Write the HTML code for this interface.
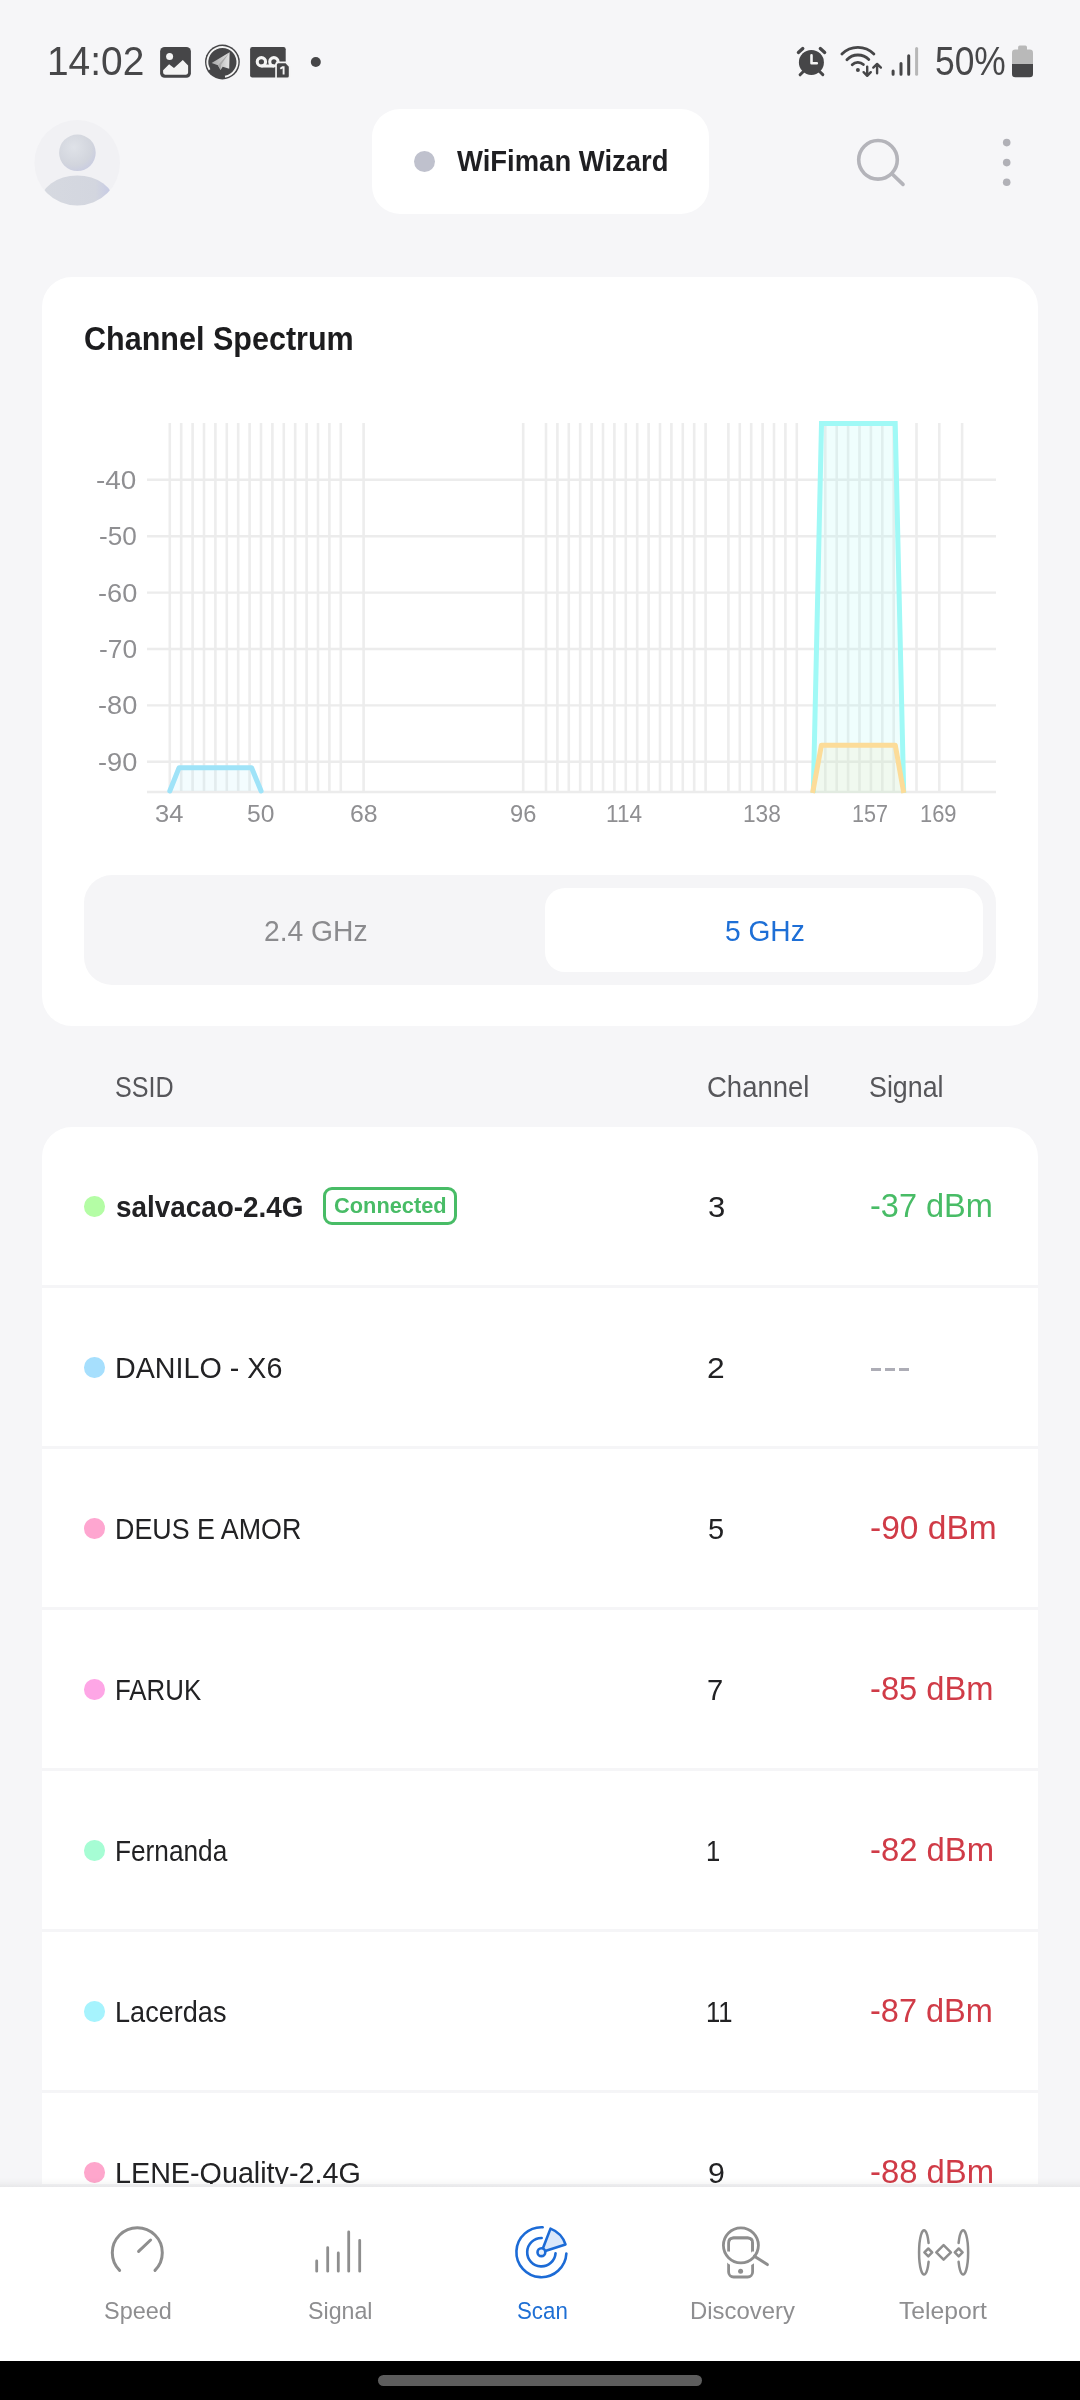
<!DOCTYPE html>
<html>
<head>
<meta charset="utf-8">
<title>WiFiman Scan</title>
<style>
*{margin:0;padding:0;box-sizing:border-box;}
html,body{width:1080px;height:2400px;overflow:hidden;background:#f6f6f8;}
body{font-family:"Liberation Sans",sans-serif;position:relative;color:#1c1c1e;}
.abs{position:absolute;}
.layer{position:absolute;left:0;top:0;width:1080px;height:2400px;will-change:transform;}
.t{position:absolute;white-space:nowrap;line-height:1;transform-origin:0 0;}
#pill{left:372px;top:109.3px;width:337.3px;height:104.4px;border-radius:28px;background:#fff;}
#pilldot{left:414px;top:150.5px;width:21.4px;height:21.4px;border-radius:50%;background:#bfc1cd;}
#card1{left:42px;top:277.3px;width:995.9px;height:749.2px;border-radius:30px;background:#fff;}
#tabs{left:84px;top:875px;width:912px;height:109.6px;border-radius:28px;background:#f5f5f7;}
#tabsel{left:545px;top:888px;width:438px;height:84px;border-radius:20px;background:#fff;}
#card2{left:42px;top:1126.8px;width:995.9px;height:1100px;border-radius:30px 30px 0 0;background:#fff;}
.sep{left:42px;width:995.9px;height:3px;background:#f5f5f7;}
.dot{width:20.6px;height:20.6px;border-radius:50%;left:84.4px;}
.dash{height:2.6px;width:9.6px;background:#adadb6;}
#conn{left:322.9px;top:1186.9px;width:134.6px;height:38.1px;border:3px solid #48bc66;border-radius:9px;}
#navsh{left:0;top:2178px;width:1080px;height:6.5px;background:linear-gradient(to bottom,rgba(0,0,0,0),rgba(0,0,0,0.035));}
#navln{left:0;top:2184px;width:1080px;height:3px;background:linear-gradient(to bottom,#ededef,#e8e8ea);}
#nav{left:0;top:2187px;width:1080px;height:174px;background:#fff;}
#black{left:0;top:2361px;width:1080px;height:39px;background:#000;}
#home{left:378px;top:2374.8px;width:324px;height:11.1px;border-radius:5.6px;background:#5d5d5d;}
</style>
</head>

<body>
<!-- HEADER -->
<div class="abs" id="pill"></div>
<div class="abs" id="pilldot"></div>
<!-- CARDS -->
<div class="abs" id="card1"></div>
<div class="abs" id="tabs"></div>
<div class="abs" id="tabsel"></div>
<div class="abs" id="card2"></div>
<div class="abs" id="conn"></div>
<div class="abs dot" style="top:1196.0px;background:#b4fda5"></div>
<div class="abs sep" style="top:1285px"></div>
<div class="abs dot" style="top:1357.0px;background:#a6dffd"></div>
<div class="abs dash" style="left:871.1px;top:1368.1px"></div>
<div class="abs dash" style="left:885.1px;top:1368.1px"></div>
<div class="abs dash" style="left:899.2px;top:1368.1px"></div>
<div class="abs sep" style="top:1446px"></div>
<div class="abs dot" style="top:1518.0px;background:#fea6d0"></div>
<div class="abs sep" style="top:1607px"></div>
<div class="abs dot" style="top:1679.0px;background:#fea6e6"></div>
<div class="abs sep" style="top:1768px"></div>
<div class="abs dot" style="top:1840.0px;background:#a6fdd4"></div>
<div class="abs sep" style="top:1929px"></div>
<div class="abs dot" style="top:2001.0px;background:#a6f3fd"></div>
<div class="abs sep" style="top:2090px"></div>
<div class="abs dot" style="top:2162.0px;background:#fea6cc"></div>
<svg class="abs" style="left:0;top:0" width="1080" height="1100" viewBox="0 0 1080 1100">
<g stroke="#ededed" stroke-width="2.6" fill="none">
<path d="M169.8 423V793M181.2 423V793M192.6 423V793M204.0 423V793M215.4 423V793M226.8 423V793M238.2 423V793M249.6 423V793M261.0 423V793M272.4 423V793M283.8 423V793M295.2 423V793M306.6 423V793M318.0 423V793M329.4 423V793M340.8 423V793M363.6 423V793M523.2 423V793M546.0 423V793M557.4 423V793M568.8 423V793M580.2 423V793M591.6 423V793M603.0 423V793M614.4 423V793M625.8 423V793M637.2 423V793M648.6 423V793M660.0 423V793M671.4 423V793M682.8 423V793M694.2 423V793M705.6 423V793M728.4 423V793M739.8 423V793M751.2 423V793M762.6 423V793M774.0 423V793M785.4 423V793M796.8 423V793M825.3 423V793M836.7 423V793M848.1 423V793M859.5 423V793M870.9 423V793M882.3 423V793M893.7 423V793M916.5 423V793M939.3 423V793M962.1 423V793"/>
</g>
<g stroke="#ececec" stroke-width="2.4" fill="none">
<path d="M147 479.7H996M147 536.2H996M147 592.6H996M147 649H996M147 705.4H996M147 761.8H996M147 792H996"/>
</g>
<path d="M169.8 791L179 767.8H251.6L261.1 791" fill="#a3e4f8" fill-opacity="0.13" stroke="none"/>
<path d="M169.8 791L179 767.8H251.6L261.1 791" fill="none" stroke="#9fe3f8" stroke-width="5" stroke-linejoin="round" stroke-linecap="round"/>
<path d="M813.3 793L821.5 423.5H895.2L903.7 793" fill="#9ef9f6" fill-opacity="0.17" stroke="none"/>
<path d="M813.3 793L821.5 423.5H895.2L903.7 793" fill="none" stroke="#a0f9f6" stroke-width="5" stroke-linejoin="miter"/>
<path d="M812.6 793L821.4 745.3H895.3L903.8 793" fill="#f8dc9a" fill-opacity="0.14" stroke="none"/>
<path d="M812.6 793L821.4 745.3H895.3L903.8 793" fill="none" stroke="#fcdc99" stroke-width="5" stroke-linejoin="round"/>
</svg>
<!-- STATUS + HEADER ICONS -->
<svg class="abs" style="left:0;top:0" width="1080" height="240" viewBox="0 0 1080 240">
<defs>
<clipPath id="avc"><circle cx="77.2" cy="162.8" r="42.8"/></clipPath>
<radialGradient id="hg" cx="0.4" cy="0.35" r="0.75"><stop offset="0" stop-color="#dfe2e8"/><stop offset="0.65" stop-color="#d2d5dd"/><stop offset="1" stop-color="#c7cae2"/></radialGradient>
<linearGradient id="bg2" x1="0" y1="0" x2="1" y2="0"><stop offset="0" stop-color="#d6d9e0"/><stop offset="0.75" stop-color="#d3d6df"/><stop offset="1" stop-color="#c4c8e6"/></linearGradient>
<linearGradient id="pg" x1="0" y1="0" x2="1" y2="0"><stop offset="0" stop-color="#a8a8a8"/><stop offset="1" stop-color="#e2e2e2"/></linearGradient>
</defs>
<!-- image icon -->
<rect x="160.1" y="47" width="30.8" height="30.8" rx="4.6" fill="#464648"/>
<circle cx="169.6" cy="56.5" r="3.5" fill="#f4f4f4"/>
<path d="M163.1 72.6V70.3L169.1 64.2L174 68L182.8 60L188.1 65.5V72.6Q188.1 74.7 186 74.7H165.2Q163.1 74.7 163.1 72.6Z" fill="#f4f4f4"/>
<!-- telegram-like icon -->
<circle cx="222.4" cy="62" r="17.4" fill="#464648"/>
<path d="M209.54 69.73A15 15 0 1 1 225 76.77" fill="none" stroke="#f4f4f4" stroke-width="1.9"/>
<path d="M229.6 52.3L211.6 63L217.9 65.3L220.6 70L222.7 66.7L229.2 68.8Z" fill="url(#pg)"/>
<path d="M229.6 52.3L217.9 65.3L220.6 70L221.2 64.5Z" fill="#a9a9a9"/>
<!-- voicemail -->
<rect x="250.1" y="47" width="35.6" height="30.4" rx="2.2" fill="#464648"/>
<g fill="none" stroke="#f4f4f4" stroke-width="3.1"><circle cx="261.4" cy="61.8" r="4.15"/><circle cx="273.9" cy="61.8" r="4.15"/><path d="M261.4 66H273.9"/></g>
<path d="M276.9 64.8Q276.9 63.3 278.4 63.3H285.6L288.8 66.8V75.9Q288.8 77.4 287.3 77.4H276.9Z" fill="#464648" stroke="#f4f4f4" stroke-width="3.4" paint-order="stroke"/>
<path d="M280.3 68.8L282.5 67.3H283.6V74.6" fill="none" stroke="#f4f4f4" stroke-width="1.9"/>
<!-- dot -->
<circle cx="315.8" cy="62" r="5" fill="#464648"/>
<!-- alarm -->
<circle cx="811.4" cy="62.4" r="12.5" fill="#464648"/>
<g stroke="#464648" stroke-width="3.3" stroke-linecap="round" fill="none">
<path d="M798.4 52.5L802.8 48.5M820.3 48.5L824.7 52.5"/>
<path d="M803.4 71.5L800.1 74.8M819.6 71.5L822.8 74.6" stroke-width="3"/>
</g>
<path d="M811.5 55.4V63.3H816.8" fill="none" stroke="#f4f4f4" stroke-width="2.6" stroke-linecap="round" stroke-linejoin="round"/>
<!-- wifi -->
<g fill="none" stroke="#464648" stroke-width="2.8" stroke-linecap="round">
<path d="M841.9 54.1A22.5 22.5 0 0 1 873.9 54.1"/>
<path d="M846.9 59.7A15.3 15.3 0 0 1 868.8 59.5"/>
<path d="M852.2 64.8A8 8 0 0 1 863.4 64.6"/>
</g>
<circle cx="857.9" cy="69.9" r="2" fill="#464648"/>
<g fill="none" stroke="#464648" stroke-width="2.4" stroke-linecap="round" stroke-linejoin="round">
<path d="M867.2 66.6V75.6M863.6 72.2L867.2 75.8L870.8 72.2"/>
<path d="M877.1 73.3V64M873.3 67.6L877.1 63.9L880.9 67.6"/>
</g>
<!-- signal bars -->
<g stroke="#464648" stroke-width="3" stroke-linecap="round">
<path d="M893.1 71V74.2M901 63.6V74.2M908.7 55.8V74.2"/>
<path d="M916.6 48.5V74.2" stroke="#b7b7b7"/>
</g>
<!-- battery -->
<path d="M1018.1 49.6V47.2Q1018.1 45.6 1019.7 45.6H1025.4Q1027 45.6 1027 47.2V49.6H1029.7Q1033 49.6 1033 52.9V64.1H1012V52.9Q1012 49.6 1015.3 49.6Z" fill="#b9b9b9"/>
<path d="M1012 64.1H1033V73.9Q1033 77.2 1029.7 77.2H1015.3Q1012 77.2 1012 73.9Z" fill="#464648"/>
<!-- avatar -->
<circle cx="77.2" cy="162.8" r="42.8" fill="#f1f1f4"/>
<circle cx="77.4" cy="152.8" r="18.3" fill="url(#hg)"/>
<g clip-path="url(#avc)"><ellipse cx="77.2" cy="203" rx="37" ry="27.5" fill="url(#bg2)"/></g>
<!-- search -->
<circle cx="878" cy="159.8" r="19.3" fill="none" stroke="#b4b4ba" stroke-width="3.6"/>
<path d="M891.9 173.7L903 184.4" stroke="#b4b4ba" stroke-width="3.6" stroke-linecap="round"/>
<!-- kebab -->
<g fill="#b1b1b7"><circle cx="1006.7" cy="142.6" r="3.8"/><circle cx="1006.7" cy="162.6" r="3.8"/><circle cx="1006.7" cy="182.2" r="3.8"/></g>
</svg>

<!-- TEXT -->
<div class="layer">
<div class="t" style="left:46.89px;top:41.06px;font-size:40.1px;color:#474749;transform:scaleX(0.9701)">14:02</div>
<div class="t" style="left:935.45px;top:41.06px;font-size:40.1px;color:#474749;transform:scaleX(0.8831)">50%</div>
<div class="t" style="left:457.00px;top:146.55px;font-size:29.0px;color:#1f1f22;transform:scaleX(0.9467);font-weight:bold">WiFiman Wizard</div>
<div class="t" style="left:84.14px;top:322.47px;font-size:33.0px;color:#1c1c1e;transform:scaleX(0.9252);font-weight:bold">Channel Spectrum</div>
<div class="t" style="left:96.49px;top:467.75px;font-size:25.1px;color:#8f8f92;transform:scaleX(1.1124)">-40</div>
<div class="t" style="left:98.96px;top:524.25px;font-size:25.1px;color:#8f8f92;transform:scaleX(1.0423)">-50</div>
<div class="t" style="left:97.52px;top:580.65px;font-size:25.1px;color:#8f8f92;transform:scaleX(1.0832)">-60</div>
<div class="t" style="left:98.65px;top:637.05px;font-size:25.1px;color:#8f8f92;transform:scaleX(1.0511)">-70</div>
<div class="t" style="left:97.52px;top:693.45px;font-size:25.1px;color:#8f8f92;transform:scaleX(1.0832)">-80</div>
<div class="t" style="left:97.52px;top:749.85px;font-size:25.1px;color:#8f8f92;transform:scaleX(1.0832)">-90</div>
<div class="t" style="left:155.27px;top:802.01px;font-size:24.8px;color:#8f8f92;transform:scaleX(1.0291)">34</div>
<div class="t" style="left:247.11px;top:802.01px;font-size:24.8px;color:#8f8f92;transform:scaleX(0.9922)">50</div>
<div class="t" style="left:349.95px;top:802.01px;font-size:24.8px;color:#8f8f92;transform:scaleX(1.0020)">68</div>
<div class="t" style="left:510.31px;top:802.01px;font-size:24.8px;color:#8f8f92;transform:scaleX(0.9545)">96</div>
<div class="t" style="left:606.18px;top:802.01px;font-size:24.8px;color:#8f8f92;transform:scaleX(0.9116)">114</div>
<div class="t" style="left:743.47px;top:802.01px;font-size:24.8px;color:#8f8f92;transform:scaleX(0.9150)">138</div>
<div class="t" style="left:852.46px;top:802.01px;font-size:24.8px;color:#8f8f92;transform:scaleX(0.8711)">157</div>
<div class="t" style="left:919.73px;top:802.01px;font-size:24.8px;color:#8f8f92;transform:scaleX(0.8837)">169</div>
<div class="t" style="left:263.85px;top:915.80px;font-size:29.3px;color:#8b8b8e;transform:scaleX(0.9636)">2.4 GHz</div>
<div class="t" style="left:724.50px;top:915.80px;font-size:29.3px;color:#1e6fd6;transform:scaleX(0.9607)">5 GHz</div>
<div class="t" style="left:115.40px;top:1072.95px;font-size:29.0px;color:#56565a;transform:scaleX(0.8664)">SSID</div>
<div class="t" style="left:707.48px;top:1072.95px;font-size:29.0px;color:#56565a;transform:scaleX(0.9483)">Channel</div>
<div class="t" style="left:868.61px;top:1072.95px;font-size:29.0px;color:#56565a;transform:scaleX(0.9243)">Signal</div>
<div class="t" style="left:115.81px;top:1191.71px;font-size:29.4px;color:#222224;transform:scaleX(0.9481);font-weight:bold">salvacao-2.4G</div>
<div class="t" style="left:707.50px;top:1192.17px;font-size:29.8px;color:#222224;transform:scaleX(1.0429)">3</div>
<div class="t" style="left:869.90px;top:1189.99px;font-size:32.5px;color:#48bc66;transform:scaleX(0.9996)">-37 dBm</div>
<div class="t" style="left:115.06px;top:1352.71px;font-size:29.4px;color:#222224;transform:scaleX(0.9759)">DANILO - X6</div>
<div class="t" style="left:707.20px;top:1353.17px;font-size:29.8px;color:#222224;transform:scaleX(1.0667)">2</div>
<div class="t" style="left:115.22px;top:1513.71px;font-size:29.4px;color:#222224;transform:scaleX(0.9129)">DEUS E AMOR</div>
<div class="t" style="left:707.59px;top:1514.17px;font-size:29.8px;color:#222224;transform:scaleX(0.9714)">5</div>
<div class="t" style="left:869.95px;top:1511.99px;font-size:32.5px;color:#d03b47;transform:scaleX(1.0323)">-90 dBm</div>
<div class="t" style="left:115.30px;top:1674.71px;font-size:29.4px;color:#222224;transform:scaleX(0.8789)">FARUK</div>
<div class="t" style="left:707.33px;top:1675.17px;font-size:29.8px;color:#222224;transform:scaleX(0.9778)">7</div>
<div class="t" style="left:869.99px;top:1672.99px;font-size:32.5px;color:#d03b47;transform:scaleX(1.0055)">-85 dBm</div>
<div class="t" style="left:115.27px;top:1835.71px;font-size:29.4px;color:#222224;transform:scaleX(0.8925)">Fernanda</div>
<div class="t" style="left:706.03px;top:1836.17px;font-size:29.8px;color:#222224;transform:scaleX(0.8600)">1</div>
<div class="t" style="left:869.98px;top:1833.99px;font-size:32.5px;color:#d03b47;transform:scaleX(1.0105)">-82 dBm</div>
<div class="t" style="left:115.20px;top:1996.71px;font-size:29.4px;color:#222224;transform:scaleX(0.9220)">Lacerdas</div>
<div class="t" style="left:705.50px;top:1997.17px;font-size:29.8px;color:#222224;transform:scaleX(0.8600)">11</div>
<div class="t" style="left:870.00px;top:1994.99px;font-size:32.5px;color:#d03b47;transform:scaleX(0.9996)">-87 dBm</div>
<div class="t" style="left:115.06px;top:2157.71px;font-size:29.4px;color:#222224;transform:scaleX(0.9771)">LENE-Quality-2.4G</div>
<div class="t" style="left:707.87px;top:2158.17px;font-size:29.8px;color:#222224;transform:scaleX(1.0182)">9</div>
<div class="t" style="left:869.98px;top:2155.99px;font-size:32.5px;color:#d03b47;transform:scaleX(1.0105)">-88 dBm</div>
<div class="t" style="left:334.03px;top:1194.74px;font-size:22.4px;color:#48bc66;transform:scaleX(0.9740);font-weight:bold">Connected</div>
</div>
<!-- NAV -->
<div class="abs" id="navsh"></div>
<div class="abs" id="navln"></div>
<div class="abs" id="nav"></div>
<div class="abs" id="black"></div>
<div class="abs" id="home"></div>

<!-- NAV ICONS -->
<svg class="abs" style="left:0;top:2190px" width="1080" height="110" viewBox="0 2190 1080 110">
<g fill="none" stroke="#8e8e8e" stroke-width="3" stroke-linecap="round" stroke-linejoin="round">
<path d="M119.62 2270.38A25 25 0 1 1 154.98 2270.38"/><path d="M138.6 2251.4L150.6 2240"/>
<path d="M316.7 2261V2271.2M327.7 2247.6V2271.2M338.3 2253V2271.2M348.7 2232V2271.2M359.7 2240.3V2271.2" stroke-width="2.8"/>
</g>
<g fill="none" stroke="#1c6bd6" stroke-width="2.6" stroke-linecap="round" stroke-linejoin="round">
<path d="M542.71 2227.23A25 25 0 1 0 566.37 2253.51"/><path d="M541.65 2238.00A14.2 14.2 0 1 0 555.57 2253.19"/><path d="M542.84 2248.47L550.51 2228.60A25.3 25.3 0 0 1 565.48 2244.42L545.21 2250.97" fill="#dbe8fa"/><circle cx="541.4" cy="2252.2" r="3.9" fill="#e6effb"/>
</g>
<!-- discovery -->
<g fill="none" stroke="#8e8e8e" stroke-width="2.8" stroke-linecap="round" stroke-linejoin="round">
<rect x="728.6" y="2237.8" width="24" height="39.2" rx="5"/>
<circle cx="740.9" cy="2245.3" r="17.5" stroke="#fff" stroke-width="9.5"/>
<path d="M728.6 2251.6V2242.8Q728.6 2237.8 733.6 2237.8H747.6Q752.6 2237.8 752.6 2242.8V2251.6" stroke-linecap="butt"/>
<circle cx="740.9" cy="2245.3" r="17.5"/>
<path d="M754.4 2256.2L767.4 2264.6" stroke-width="3"/>
</g>
<circle cx="740.6" cy="2271.3" r="2.5" fill="#8e8e8e"/>
<!-- teleport -->
<g fill="none" stroke="#8e8e8e" stroke-width="2.5" stroke-linecap="round" stroke-linejoin="round">
<path d="M928.6 2243A5 22.2 0 1 0 928.6 2261.8"/>
<path d="M958.6 2243A5 22.2 0 1 1 958.6 2261.8"/>
<path d="M928.3 2248.5L932.2 2252.4L928.3 2256.3L924.4 2252.4Z"/>
<path d="M958.7 2248.5L962.6 2252.4L958.7 2256.3L954.8 2252.4Z"/>
<path d="M943.6 2245.1L950.9 2252.4L943.6 2259.7L936.3 2252.4Z"/>
</g>
</svg>

<div class="layer">
<div class="t" style="left:103.77px;top:2299.27px;font-size:23.9px;color:#8e8e90;transform:scaleX(0.9811)">Speed</div>
<div class="t" style="left:307.79px;top:2299.27px;font-size:23.9px;color:#8e8e90;transform:scaleX(0.9717)">Signal</div>
<div class="t" style="left:516.63px;top:2299.27px;font-size:23.9px;color:#1e6fd4;transform:scaleX(0.9333)">Scan</div>
<div class="t" style="left:689.73px;top:2299.23px;font-size:24.3px;color:#8e8e90;transform:scaleX(0.9828)">Discovery</div>
<div class="t" style="left:899.29px;top:2299.23px;font-size:24.3px;color:#8e8e90;transform:scaleX(1.0157)">Teleport</div>
</div>
</body>
</html>
